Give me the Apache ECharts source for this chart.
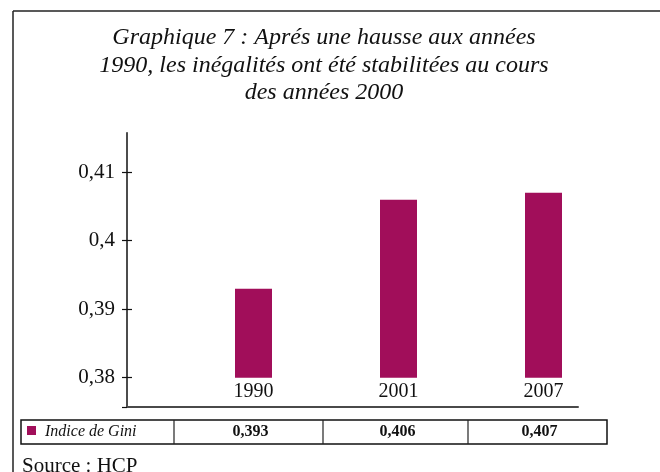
<!DOCTYPE html>
<html>
<head>
<meta charset="utf-8">
<script src="https://cdn.jsdelivr.net/npm/echarts@6/dist/echarts.min.js"></script>
<style>
  html, body { margin: 0; padding: 0; background: #fff; }
  #chart { width: 660px; height: 472px; }
</style>
</head>
<body>
<div id="chart"></div>
<script>
const titleLines = [
  "Graphique 7 : Aprés une hausse aux années",
  "1990, les inégalités ont été stabilitées au cours",
  "des années 2000",
];
const years = ["1990", "2001", "2007"];
const gini = [0.393, 0.406, 0.407];
const yTicks = [0.38, 0.39, 0.4, 0.41];
const seriesName = "Indice de Gini";
const sourceText = "Source : HCP";

const Y_MIN = 0.37572;
const Y_MAX = 0.41578;
const BAR_COLOR = "#a10e5a";
const SERIF = "'Liberation Serif', 'Times New Roman', serif";

const comma = (v) => String(v).replace(".", ",");

// table under the plot: legend cell + one cell per year
const tableLeft = 21, tableRight = 607, tableTop = 420, tableBottom = 444;
const colEdges = [174, 323, 468];

function tableGraphics() {
  const els = [
    { type: "rect", shape: { x: tableLeft, y: tableTop, width: tableRight - tableLeft, height: tableBottom - tableTop },
      style: { fill: "none", stroke: "#111", lineWidth: 1.5 } },
    { type: "rect", shape: { x: 27, y: 426, width: 9, height: 9 }, style: { fill: BAR_COLOR } },
    { type: "text", x: 45, y: (tableTop + tableBottom) / 2,
      style: { text: seriesName, font: "italic 16px " + SERIF, fill: "#111", textVerticalAlign: "middle" } },
  ];
  colEdges.forEach((x) => {
    els.push({ type: "line", shape: { x1: x, y1: tableTop, x2: x, y2: tableBottom },
      style: { stroke: "#222", lineWidth: 1.2 } });
  });
  const edges = colEdges.concat([tableRight]);
  gini.forEach((v, i) => {
    els.push({ type: "text", x: (edges[i] + edges[i + 1]) / 2 + 2, y: (tableTop + tableBottom) / 2,
      style: { text: v.toFixed(3).replace(".", ","), font: "bold 16px " + SERIF, fill: "#111",
        textAlign: "center", textVerticalAlign: "middle" } });
  });
  return els;
}

const chart = echarts.init(document.getElementById("chart"), null, { renderer: "canvas" });
chart.setOption({
  animation: false,
  backgroundColor: "#fff",
  title: {
    text: titleLines.join("\n"),
    left: 324,
    textAlign: "center",
    top: 24,
    padding: 0,
    textStyle: { fontFamily: SERIF, fontStyle: "italic", fontWeight: "normal", fontSize: 24, lineHeight: 27.5, color: "#111" },
  },
  grid: [
    { left: 127, right: 82, top: 132.7, bottom: 65 },
    { left: 181, right: 44, top: 132.7, bottom: 94.3 },
  ],
  xAxis: [
    { gridIndex: 0, type: "category", data: years,
      axisLine: { lineStyle: { color: "#4a4a4a", width: 2 } },
      axisTick: { show: false }, axisLabel: { show: false } },
    { gridIndex: 1, type: "category", data: years,
      axisLine: { show: false }, axisTick: { show: false },
      axisLabel: { margin: 4, fontFamily: SERIF, fontSize: 20, color: "#111" } },
  ],
  yAxis: [
    { gridIndex: 0, type: "value", min: Y_MIN, max: Y_MAX, splitLine: { show: false },
      axisLine: { show: true, lineStyle: { color: "#111", width: 1.5 } },
      axisTick: { show: true, length: 5, customValues: [Y_MIN].concat(yTicks), lineStyle: { color: "#111", width: 1.2 } },
      axisLabel: { customValues: yTicks, margin: 12, fontFamily: SERIF, fontSize: 21, color: "#111", formatter: comma } },
    { gridIndex: 0, type: "value", position: "left", min: Y_MIN, max: Y_MAX, splitLine: { show: false },
      axisLine: { show: false },
      axisTick: { show: true, inside: true, length: 5, customValues: yTicks, lineStyle: { color: "#111", width: 1.2 } },
      axisLabel: { show: false } },
    { gridIndex: 1, type: "value", min: yTicks[0], max: Y_MAX, show: false },
  ],
  series: [
    { name: seriesName, type: "bar", xAxisIndex: 1, yAxisIndex: 2, data: gini,
      barWidth: 37, itemStyle: { color: BAR_COLOR } },
  ],
  graphic: [
    { type: "line", shape: { x1: 13, y1: 11, x2: 660, y2: 11 }, style: { stroke: "#222", lineWidth: 1.5 } },
    { type: "line", shape: { x1: 13, y1: 11, x2: 13, y2: 472 }, style: { stroke: "#222", lineWidth: 1.5 } },
    { type: "text", x: 22, y: 456, style: { text: sourceText, font: "21px " + SERIF, fill: "#111" } },
  ].concat(tableGraphics()),
});
</script>
</body>
</html>
